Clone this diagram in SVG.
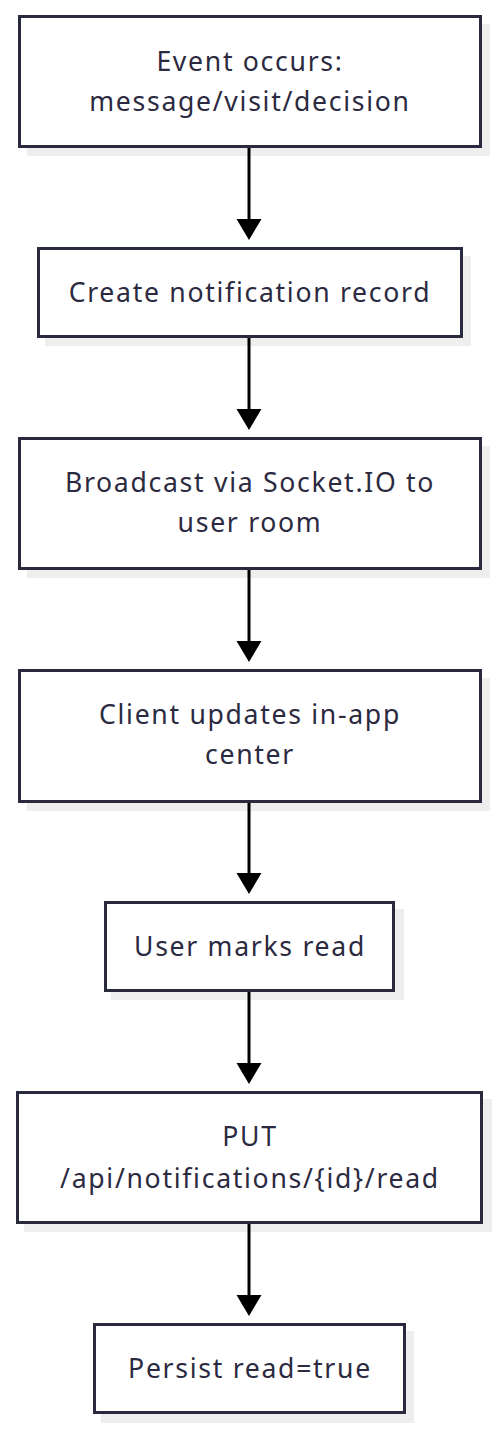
<svg xmlns="http://www.w3.org/2000/svg" width="499" height="1430" viewBox="0 0 499 1430">
<style>
.box{fill:#fff;stroke:#2a2a3e;stroke-width:3}
.sh{fill:#eeeeee}
.t{font-family:"Noto Sans","Open Sans",sans-serif;font-size:26.6px;fill:#2b2a40;text-anchor:middle;letter-spacing:1.7px}
.ln{stroke:#000;stroke-width:3;fill:none}
.ah{fill:#000}
</style>
<rect width="499" height="1430" fill="#fff"/>
<g id="n1">
<rect class="sh" x="27" y="24" width="463" height="132"/>
<rect class="box" x="19.5" y="16.5" width="461" height="130"/>
<text class="t" x="250" y="71">Event occurs:</text>
<text class="t" x="250" y="111">message/visit/decision</text>
</g>
<g id="n2">
<rect class="sh" x="45" y="256" width="426" height="90"/>
<rect class="box" x="38.5" y="248.5" width="423" height="88"/>
<text class="t" x="250" y="302">Create notification record</text>
</g>
<g id="n3">
<rect class="sh" x="27" y="446" width="463" height="132"/>
<rect class="box" x="19.5" y="438.5" width="461" height="130"/>
<text class="t" x="250" y="492">Broadcast via Socket.IO to</text>
<text class="t" x="250" y="532">user room</text>
</g>
<g id="n4">
<rect class="sh" x="27" y="678" width="463" height="133"/>
<rect class="box" x="19.5" y="670.5" width="461" height="131"/>
<text class="t" x="250" y="724">Client updates in-app</text>
<text class="t" x="250" y="764">center</text>
</g>
<g id="n5">
<rect class="sh" x="111" y="909" width="293" height="91"/>
<rect class="box" x="105.5" y="902.5" width="288" height="88"/>
<text class="t" x="250" y="956">User marks read</text>
</g>
<g id="n6">
<rect class="sh" x="24" y="1099" width="468" height="133"/>
<rect class="box" x="17.5" y="1092.5" width="464" height="130"/>
<text class="t" x="250" y="1146">PUT</text>
<text class="t" x="250" y="1188">/api/notifications/{id}/read</text>
</g>
<g id="n7">
<rect class="sh" x="101" y="1331" width="313" height="92"/>
<rect class="box" x="94.5" y="1324.5" width="310" height="88"/>
<text class="t" x="250" y="1378">Persist read=true</text>
</g>
<g id="connectors">
<line class="ln" x1="249" y1="148" x2="249" y2="222"/><polygon class="ah" points="236.5,219 261.5,219 249,240"/>
<line class="ln" x1="249" y1="338" x2="249" y2="412"/><polygon class="ah" points="236.5,409 261.5,409 249,430"/>
<line class="ln" x1="249" y1="570" x2="249" y2="644"/><polygon class="ah" points="236.5,641 261.5,641 249,662"/>
<line class="ln" x1="249" y1="803" x2="249" y2="876"/><polygon class="ah" points="236.5,873 261.5,873 249,894"/>
<line class="ln" x1="249" y1="992" x2="249" y2="1066"/><polygon class="ah" points="236.5,1063 261.5,1063 249,1084"/>
<line class="ln" x1="249" y1="1224" x2="249" y2="1298"/><polygon class="ah" points="236.5,1295 261.5,1295 249,1316"/>
</g>
</svg>
